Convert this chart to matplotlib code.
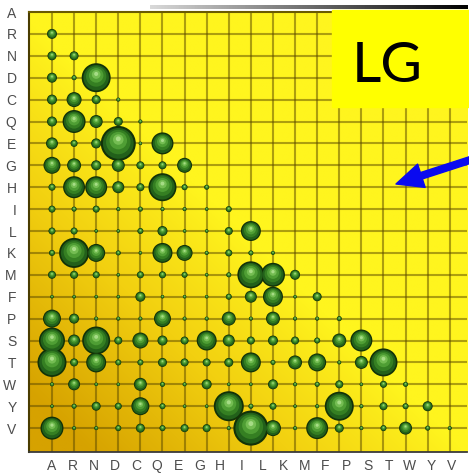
# LG amino acid exchangeability bubble matrix

import matplotlib.pyplot as plt
import numpy as np
from matplotlib.colors import LinearSegmentedColormap
from matplotlib.patches import Rectangle

amino = list("ARNDCQEGHILKMFPSTWYV")

# bubble diameters (pixels) for each row, columns A.. up to the one before the diagonal
row_R = [10]
row_N = [9, 9]
row_D = [10, 5, 29]
row_C = [10, 15, 9, 4]
row_Q = [10, 23, 13, 9, 4]
row_E = [12, 7, 10, 35, 3, 22]
row_G = [17, 14, 10, 13, 8, 8, 15]
row_H = [7, 22, 22, 12, 8, 28, 6, 5]
row_I = [7, 5, 7, 4, 5, 4, 4, 3, 6]
row_L = [7, 7, 3, 3, 6, 10, 3, 3, 8, 20]
row_K = [6, 30, 18, 5, 3, 20, 16, 4, 7, 5, 4]
row_M = [8, 8, 7, 3, 7, 7, 6, 3, 5, 27, 24, 10]
row_F = [3, 3, 3, 3, 10, 3, 3, 3, 6, 12, 20, 3, 9]
row_P = [18, 10, 4, 4, 4, 17, 4, 4, 14, 4, 14, 4, 4, 5]
row_S = [26, 12, 28, 8, 16, 10, 8, 20, 12, 8, 10, 8, 6, 14, 22]
row_T = [29, 8, 20, 6, 6, 9, 8, 8, 9, 20, 5, 14, 18, 4, 13, 28]
row_W = [4, 12, 3, 3, 13, 5, 4, 10, 3, 3, 10, 4, 5, 8, 3, 7, 5]
row_Y = [3, 5, 9, 7, 18, 6, 3, 3, 30, 5, 7, 3, 4, 29, 4, 8, 6, 10]
row_V = [23, 4, 4, 6, 9, 6, 8, 8, 4, 35, 16, 4, 22, 9, 4, 6, 13, 5, 4]

rows = [row_R, row_N, row_D, row_C, row_Q, row_E, row_G, row_H, row_I, row_L,
        row_K, row_M, row_F, row_P, row_S, row_T, row_W, row_Y, row_V]

xs, ys, ds = [], [], []
for i, r in enumerate(rows, start=1):
    for j, d in enumerate(r):
        xs.append(j)
        ys.append(i)
        ds.append(d)
xs = np.array(xs)
ys = np.array(ys)
ds = np.array(ds, dtype=float)

fig = plt.figure(figsize=(4.69, 4.73), dpi=100)
ax = fig.add_axes([29 / 469, 1 - 452 / 473, 438 / 469, 440 / 473])
x0, x1 = -1.04, 18.78
y0, y1 = 0, 20.09
ax.set_xlim(x0, x1)
ax.set_ylim(y1, y0)

# background: golden below the diagonal, bright yellow above
gx, gy = np.meshgrid(np.linspace(x0, x1, 300), np.linspace(y0, y1, 300))
dark = np.clip((gy - gx - 1.5) / 17, 0, 1) ** 0.9
bg = LinearSegmentedColormap.from_list("bg", ["#fff51e", "#f2d010", "#d6a200"])
ax.imshow(dark, extent=(x0, x1, y1, y0), cmap=bg, vmin=0, vmax=1,
          aspect="auto", zorder=0, interpolation="bilinear")

# grid
for i in range(1, 20):
    ax.axhline(i, color="#5a4800", alpha=0.5, lw=1.5, zorder=1)
for j in range(0, 20):
    ax.axvline(j, color="#5a4800", alpha=0.5, lw=1.5, zorder=1)

# green spheres
px_row = 21.9
layers = [(1.0, "#123208", 0.0), (0.88, "#22601a", 0.0), (0.7, "#357f22", -0.04),
          (0.5, "#4f9e34", -0.08), (0.3, "#74bd52", -0.11), (0.14, "#a6dc86", -0.13)]
for k, (scale, color, dy) in enumerate(layers):
    ax.scatter(xs, ys + dy * ds / px_row, s=(np.maximum(ds, 3.5) * scale * 0.72) ** 2,
               color=color, linewidths=0, zorder=3 + k)

ax.spines["right"].set_visible(False)
ax.spines["left"].set_color("#4a3c00")
ax.spines["left"].set_linewidth(1.5)
ax.spines["top"].set_color("#6a5a00")
ax.spines["top"].set_linewidth(1.5)
ax.spines["bottom"].set_color("#3a3a3a")
ax.spines["bottom"].set_linewidth(1.3)

ax.set_yticks(range(20))
ax.set_yticklabels(amino, fontsize=10, color="#4d4d4d", family="Liberation Sans")
label_step = 21.05 / 22.1
ax.set_xticks(np.arange(20) * label_step)
ax.set_xticklabels(amino, fontsize=10, color="#4d4d4d", family="Liberation Sans")
ax.tick_params(length=0)
ax.tick_params(axis="y", pad=9)
ax.tick_params(axis="x", pad=5)

# shadow line above the board
sh = fig.add_axes([150 / 469, 1 - 9 / 473, 317 / 469, 4 / 473])
sh.imshow(np.linspace(0.85, 0, 200)[None, :], cmap="gray", aspect="auto",
          vmin=0, vmax=1)
sh.axis("off")

# LG label box
fig.add_artist(Rectangle((332 / 469, 1 - 107 / 473), 137 / 469, 97 / 473,
                         transform=fig.transFigure, color="#ffff00", zorder=5))
fig.text(387 / 469, 1 - 82 / 473, "LG", fontsize=41, family="Lato",
         ha="center", va="baseline", color="black", zorder=6)

# blue arrow
ax.annotate("", xy=(396, 473 - 184), xycoords="figure pixels",
            xytext=(470, 473 - 160), textcoords="figure pixels",
            arrowprops=dict(arrowstyle="simple,head_length=1.2,head_width=1.1,tail_width=0.3",
                            mutation_scale=16, color="#0a0af0", shrinkA=0, shrinkB=0),
            annotation_clip=False, zorder=10)

fig.savefig("out.png", dpi=100)
